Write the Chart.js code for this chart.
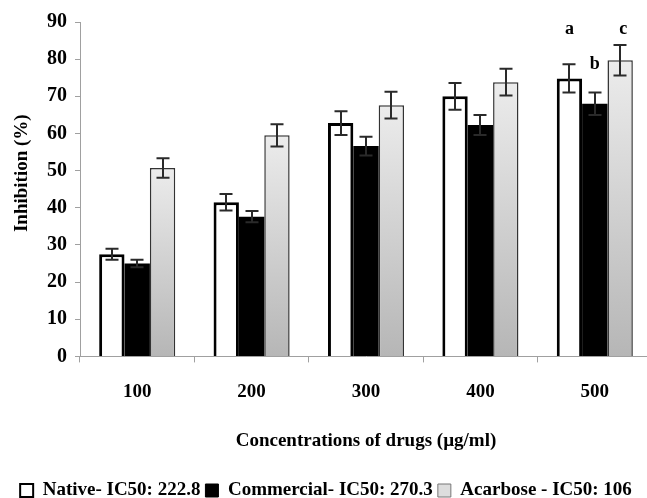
<!DOCTYPE html>
<html><head><meta charset="utf-8">
<script src="https://cdn.jsdelivr.net/npm/chart.js@4.4.0/dist/chart.umd.min.js"></script>
<style>html,body{margin:0;padding:0;background:#fff;overflow:hidden}
#wrap{width:652px;height:498px;position:relative}</style></head>
<body><div id="wrap"><canvas id="c"></canvas></div>
<script>
const categories = ['100', '200', '300', '400', '500'];
const nativeValues = [27.5, 41.5, 62.8, 70.0, 74.8];
const nativeErrors = [1.5, 2.2, 3.2, 3.6, 3.8];
const commercialValues = [25.0, 37.6, 56.6, 62.3, 68.0];
const commercialErrors = [1.0, 1.5, 2.5, 2.7, 3.0];
const acarboseValues = [50.7, 59.5, 67.6, 73.8, 79.7];
const acarboseErrors = [2.6, 3.0, 3.6, 3.6, 4.1];
const seriesNames = ['Native- IC50: 222.8', 'Commercial- IC50: 270.3', 'Acarbose - IC50: 106'];
const significanceLetters = ['a', 'b', 'c'];
const yAxisTitle = 'Inhibition (%)';
const xAxisTitle = 'Concentrations of drugs (\u00b5g/ml)';

const errorsBySeries = [nativeErrors, commercialErrors, acarboseErrors];
const valuesBySeries = [nativeValues, commercialValues, acarboseValues];
const FONT = '"Liberation Serif", "Times New Roman", serif';

function acarboseFill(ctx) {
  const chart = ctx.chart;
  const {chartArea, scales} = chart;
  if (!chartArea || ctx.type !== 'data') return '#dcdcdc';
  const top = scales.y.getPixelForValue(ctx.raw);
  const bot = scales.y.getPixelForValue(0);
  const g = chart.ctx.createLinearGradient(0, top, 0, bot);
  g.addColorStop(0, '#ececec');
  g.addColorStop(1, '#b6b6b6');
  return g;
}

const errorBarPlugin = {
  id: 'errorBars',
  afterDatasetsDraw(chart) {
    const c = chart.ctx;
    const y = chart.scales.y;
    c.save();
    c.strokeStyle = '#2a2a2a';
    c.lineWidth = 2;
    chart.data.datasets.forEach((ds, i) => {
      const meta = chart.getDatasetMeta(i);
      meta.data.forEach((el, j) => {
        const v = valuesBySeries[i][j], e = errorsBySeries[i][j];
        const yt = y.getPixelForValue(v + e), yb = y.getPixelForValue(v - e);
        const x = Math.round(el.x);
        c.beginPath();
        c.moveTo(x, yt); c.lineTo(x, yb);
        c.moveTo(x - 6.5, yt); c.lineTo(x + 6.5, yt);
        c.moveTo(x - 6.5, yb); c.lineTo(x + 6.5, yb);
        c.stroke();
      });
    });
    // significance letters above the last group
    const last = categories.length - 1;
    const tops = valuesBySeries.map((vals, i) => y.getPixelForValue(vals[last] + errorsBySeries[i][last]));
    const highest = Math.min(...tops);
    c.fillStyle = '#000';
    c.font = 'bold 18px ' + FONT;
    c.textAlign = 'center';
    c.textBaseline = 'middle';
    significanceLetters.forEach((t, i) => {
      const el = chart.getDatasetMeta(i).data[last];
      const yy = (i === 1) ? tops[0] : highest - 16;
      c.fillText(t, el.x + (i === 2 ? 3 : 0), yy);
    });
    c.restore();
  }
};

const yTitlePlugin = {
  id: 'yTitle',
  afterDraw(chart) {
    const c = chart.ctx;
    const area = chart.chartArea;
    c.save();
    c.translate(22, (area.top + area.bottom) / 2 - 16);
    c.rotate(-Math.PI / 2);
    c.fillStyle = '#000';
    c.font = 'bold 19px ' + FONT;
    c.textAlign = 'center';
    c.textBaseline = 'middle';
    c.fillText(yAxisTitle, 0, 0);
    c.restore();
  }
};

const legendColors = [
  {fill: '#ffffff', stroke: '#000000', lw: 2},
  {fill: '#000000', stroke: '#000000', lw: 1},
  {fill: '#dddddd', stroke: '#777777', lw: 1}
];

new Chart(document.getElementById('c'), {
  type: 'bar',
  data: {
    labels: categories,
    datasets: [
      {label: seriesNames[0], data: nativeValues, backgroundColor: '#ffffff', borderColor: '#000000', borderWidth: 3},
      {label: seriesNames[1], data: commercialValues, backgroundColor: '#000000', borderColor: '#000000', borderWidth: 0},
      {label: seriesNames[2], data: acarboseValues, backgroundColor: acarboseFill, borderColor: '#333333', borderWidth: 1.5}
    ]
  },
  options: {
    responsive: true,
    maintainAspectRatio: false,
    animation: false,
    events: [],
    layout: {padding: {left: 0, right: 0, top: 22, bottom: -12}},
    datasets: {bar: {categoryPercentage: 0.665, barPercentage: 1.0}},
    scales: {
      x: {
        offset: true,
        grid: {display: true, drawOnChartArea: false, offset: true, color: '#a0a0a0', tickLength: 6},
        border: {color: '#a0a0a0', width: 1},
        ticks: {color: '#000', padding: 18, font: {family: FONT, size: 19, weight: 'bold'}},
        title: {display: true, text: xAxisTitle, color: '#000', font: {family: FONT, size: 19, weight: 'bold'}, padding: {top: 8, bottom: 24}}
      },
      y: {
        min: 0, max: 90,
        afterFit(s) { s.width = 80; },
        grid: {display: true, drawOnChartArea: false, color: '#a0a0a0', tickLength: 5},
        border: {color: '#a0a0a0', width: 1},
        ticks: {stepSize: 10, color: '#000', padding: 8, font: {family: FONT, size: 20, weight: 'bold'}},
        title: {display: false}
      }
    },
    plugins: {
      tooltip: {enabled: false},
      legend: {
        position: 'bottom',
        labels: {
          color: '#000',
          font: {family: FONT, size: 19, weight: 'bold'},
          boxWidth: 13, boxHeight: 13, padding: 5,
          generateLabels(chart) {
            return chart.data.datasets.map((ds, i) => ({
              text: ds.label, fillStyle: legendColors[i].fill, strokeStyle: legendColors[i].stroke,
              lineWidth: legendColors[i].lw, datasetIndex: i, hidden: false, fontColor: '#000'
            }));
          }
        }
      }
    }
  },
  plugins: [errorBarPlugin, yTitlePlugin]
});
</script></body></html>
